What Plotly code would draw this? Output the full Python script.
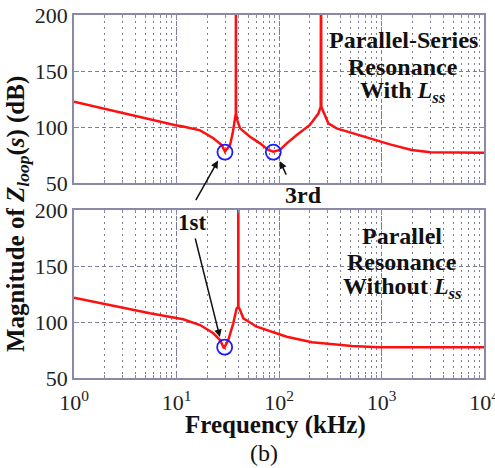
import plotly.graph_objects as go
import numpy as np

# Top panel: Parallel-Series Resonance With Lss
f_top = [1, 2, 3.77, 5.5, 9.8, 11.6, 17, 22.9, 27.6, 29.7, 33.3, 35.3, 37.2, 37.9, 38.0, 38.1, 39.2, 41.7, 52.1, 65.3, 78.7, 88, 102, 119, 149, 200, 242, 255, 257, 259, 271, 303, 365, 531, 772, 1210, 1970, 3000, 10000]
m_top = [122.5, 116, 110, 106.5, 101.5, 100.5, 97, 90, 83.9, 78, 84, 94.3, 106, 112, 260, 112, 106, 98.8, 91.3, 85.4, 79.5, 78, 79.5, 85.4, 92.9, 101.8, 112, 118, 260, 118, 113.7, 103.3, 98.8, 94.4, 89.9, 84.5, 79.5, 77.5, 77]

# Bottom panel: Parallel Resonance Without Lss
f_bot = [1, 2, 5.5, 11.6, 17, 22.9, 26.6, 29, 32, 35.8, 38.6, 40.0, 40.1, 40.2, 41.7, 44.9, 60.5, 94.9, 119, 210, 513, 930, 10000]
m_bot = [121.7, 116, 107.8, 102.5, 97.3, 89.9, 83.9, 76.5, 83.9, 98.8, 112.2, 113.5, 260, 113.5, 110.7, 103.3, 95.8, 89.9, 86.9, 82, 78.5, 77.5, 77.5]

# Marked minima (circles)
circ_top_f = [29.7, 88]
circ_top_m = [77.5, 77.5]
circ_bot_f = [29.5]
circ_bot_m = [77.5]

xtick_vals = [1, 10, 100, 1000, 10000]
xtick_text = ["10<sup>0</sup>", "10<sup>1</sup>", "10<sup>2</sup>", "10<sup>3</sup>", "10<sup>4</sup>"]
ytick_vals = [50, 100, 150, 200]

W, H = 495, 468
L, R = 74, 484
top_px = (15, 183)
bot_px = (210, 378)

def ydom(p):
    return [(H - p[1]) / H, (H - p[0]) / H]

SERIF = "Liberation Serif"
GRID = "#7c7c9c"
FRAME = "#8a8aa6"

fig = go.Figure()
fig.add_trace(go.Scatter(x=f_top, y=m_top, mode="lines", line=dict(color="#ff1010", width=2.5), xaxis="x", yaxis="y", showlegend=False))
fig.add_trace(go.Scatter(x=circ_top_f, y=circ_top_m, mode="markers", marker=dict(symbol="circle-open", size=15, color="#1a1aff", line=dict(width=1.8)), xaxis="x", yaxis="y", showlegend=False))
fig.add_trace(go.Scatter(x=f_bot, y=m_bot, mode="lines", line=dict(color="#ff1010", width=2.5), xaxis="x2", yaxis="y2", showlegend=False))
fig.add_trace(go.Scatter(x=circ_bot_f, y=circ_bot_m, mode="markers", marker=dict(symbol="circle-open", size=15, color="#1a1aff", line=dict(width=1.8)), xaxis="x2", yaxis="y2", showlegend=False))

def xax(show_labels, anchor):
    return dict(type="log", range=[0, 4], domain=[L / W, R / W], anchor=anchor, automargin=False,
                tickvals=xtick_vals, ticktext=xtick_text, showticklabels=show_labels,
                ticklabeloverflow="allow",
                tickfont=dict(family=SERIF, size=22, color="#222"), ticklabelstandoff=4,
                showgrid=True, gridcolor=GRID, gridwidth=1, griddash="4px,3px",
                showline=True, linecolor=FRAME, linewidth=1.5, mirror="ticks",
                ticks="inside", ticklen=5, tickcolor=FRAME,
                minor=dict(dtick="D1", showgrid=True, gridcolor=GRID, gridwidth=1, griddash="2px,4px",
                           ticks="inside", ticklen=3, tickcolor=FRAME),
                zeroline=False)

def yax(dom, anchor):
    return dict(range=[50, 200], domain=dom, anchor=anchor, tickvals=ytick_vals, automargin=False,
                ticklabeloverflow="allow",
                tickfont=dict(family=SERIF, size=22, color="#222"),
                showgrid=True, gridcolor=GRID, gridwidth=1, griddash="4px,3px",
                showline=True, linecolor=FRAME, linewidth=1.5, mirror="ticks",
                ticks="inside", ticklen=5, tickcolor=FRAME, zeroline=False)

fig.update_layout(
    width=W, height=H, margin=dict(l=0, r=0, t=0, b=0, autoexpand=False),
    paper_bgcolor="white", plot_bgcolor="white",
    xaxis=xax(False, "y"), yaxis=yax(ydom(top_px), "x"),
    xaxis2=xax(True, "y2"), yaxis2=yax(ydom(bot_px), "x2"),
)

def ppx(x):
    return x / W

def ppy(y):
    return (H - y) / H

def txt(text, x, y, size, angle=0):
    return dict(text=text, x=ppx(x), y=ppy(y), xref="paper", yref="paper", showarrow=False,
                textangle=angle, xanchor="center", yanchor="middle",
                font=dict(family=SERIF, size=size, color="#111"))

ann = []
ann.append(txt("<b>Magnitude of <i>Z<sub>loop</sub></i>(<i>s</i>) (dB)</b>", 17, 214, 25, -90))
ann.append(txt("<b>Frequency (kHz)</b>", 275, 425, 25))
ann.append(txt("(b)", 264, 453, 24))
for t, yy in [("<b>Parallel-Series</b>", 40), ("<b>Resonance</b>", 67), ("<b>With <i>L<sub>ss</sub></i></b>", 92)]:
    ann.append(txt(t, 403, yy, 24))
for t, yy in [("<b>Parallel</b>", 236), ("<b>Resonance</b>", 262), ("<b>Without <i>L<sub>ss</sub></i></b>", 288)]:
    ann.append(txt(t, 402, yy, 24))
ann.append(txt("<b>1st</b>", 192, 222, 23))
ann.append(txt("<b>3rd</b>", 303, 195, 24))
# Arrows (heads in data coords: log10 freq on log axis)
arrow = dict(text="", showarrow=True, arrowhead=2, arrowsize=1, arrowwidth=1.5, arrowcolor="#111")
ann.append(dict(arrow, x=np.log10(25.4), y=70, xref="x", yref="y", ax=-23, ay=41))
ann.append(dict(arrow, x=np.log10(26.5), y=86.6, xref="x2", yref="y2", ax=-25, ay=-100))
ann.append(dict(arrow, x=np.log10(102), y=69.5, xref="x", yref="y", ax=7, ay=15))
fig.update_layout(annotations=ann)

fig.write_html("out.html")
